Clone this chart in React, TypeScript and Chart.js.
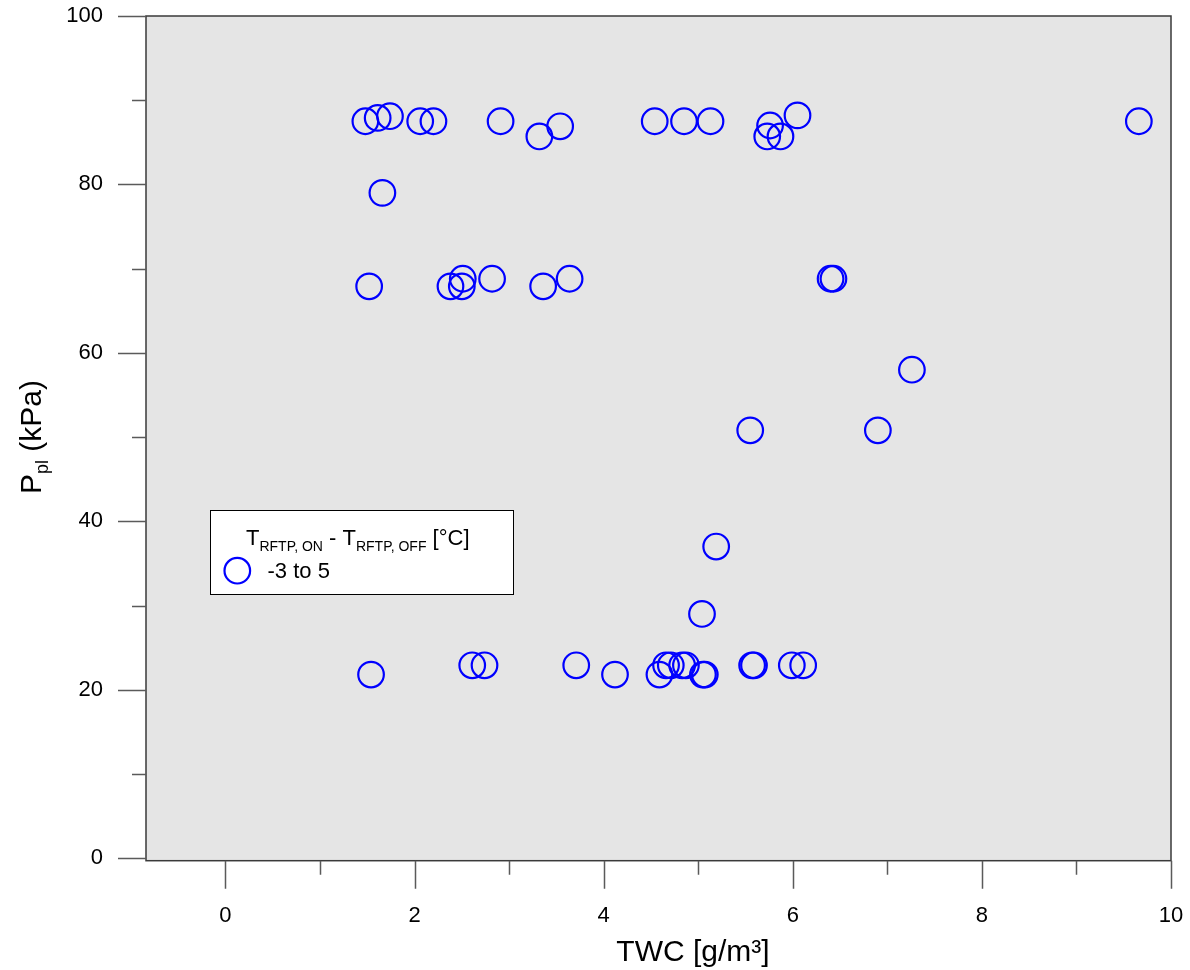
import React, { useEffect, useRef } from "react";
import { Chart, registerables } from "chart.js";

Chart.register(...registerables);

// ---- data ----
const X_VALUES = [
  1.48, 1.61, 1.74, 2.06, 2.2, 2.91, 3.32, 3.54, 4.54, 4.85, 5.13, 5.76, 5.73, 5.87, 6.05, 9.66,
  1.66,
  1.52, 2.38, 2.5, 2.51, 2.82, 3.36, 3.64, 6.4, 6.43,
  7.26, 5.55, 6.9, 5.19, 5.04,
  1.54, 2.61, 2.74, 3.71, 4.12, 4.59, 4.66, 4.71, 4.83, 4.87, 5.05, 5.07, 5.57, 5.59, 5.99, 6.11,
];
const Y_VALUES = [
  87.5, 87.9, 88.1, 87.5, 87.5, 87.5, 85.7, 86.9, 87.5, 87.5, 87.5, 87.0, 85.7, 85.7, 88.2, 87.5,
  79.0,
  67.9, 67.9, 67.9, 68.8, 68.8, 67.9, 68.8, 68.8, 68.8,
  58.0, 50.8, 50.8, 37.0, 29.0,
  21.8, 22.9, 22.9, 22.9, 21.8, 21.8, 22.9, 22.9, 22.9, 22.9, 21.8, 21.8, 22.9, 22.9, 22.9, 22.9,
];
const X_TICKS = [0, 1, 2, 3, 4, 5, 6, 7, 8, 9, 10];
const X_LABELED = [0, 2, 4, 6, 8, 10];
const Y_TICKS = [0, 10, 20, 30, 40, 50, 60, 70, 80, 90, 100];
const Y_LABELED = [0, 20, 40, 60, 80, 100];
const X_MIN = -0.84;
const X_MAX = 10;
const Y_MIN = -0.3;
const Y_MAX = 100;
const SERIES_LABEL = "-3 to 5";
const X_TITLE = "TWC [g/m³]";
const Y_TITLE = [
  { text: "P", sub: false },
  { text: "pl", sub: true },
  { text: " (kPa)", sub: false },
];
const LEGEND_TITLE = [
  { text: "T", sub: false },
  { text: "RFTP, ON", sub: true },
  { text: " - T", sub: false },
  { text: "RFTP, OFF", sub: true },
  { text: " [°C]", sub: false },
];

const FAMILY = '"Liberation Sans", Arial, Helvetica, sans-serif';
const BLUE = "#0000ff";
const MARKER_R = 12.8;
const MARKER_W = 2.2;

function drawRich(
  ctx: CanvasRenderingContext2D,
  parts: { text: string; sub: boolean }[],
  x: number,
  y: number,
  mainSize: number,
  subSize: number,
  subDrop: number,
  align: "left" | "center"
) {
  let total = 0;
  for (const p of parts) {
    ctx.font = `${p.sub ? subSize : mainSize}px ${FAMILY}`;
    total += ctx.measureText(p.text).width;
  }
  let cx = align === "center" ? x - total / 2 : x;
  ctx.textAlign = "left";
  ctx.textBaseline = "alphabetic";
  for (const p of parts) {
    ctx.font = `${p.sub ? subSize : mainSize}px ${FAMILY}`;
    ctx.fillText(p.text, cx, p.sub ? y + subDrop : y);
    cx += ctx.measureText(p.text).width;
  }
}

const decorPlugin = {
  id: "decor",
  beforeDraw(chart: any) {
    const { ctx, chartArea: a } = chart;
    ctx.save();
    ctx.fillStyle = "#e5e5e5";
    ctx.fillRect(a.left, a.top, a.right - a.left, a.bottom - a.top);
    ctx.restore();
  },
  afterDraw(chart: any) {
    const { ctx, chartArea: a } = chart;
    const xs = chart.scales.x;
    const ys = chart.scales.y;
    ctx.save();
    // frame
    ctx.strokeStyle = "#3a3a3a";
    ctx.lineWidth = 1.5;
    ctx.strokeRect(a.left, a.top, a.right - a.left, a.bottom - a.top);
    // tick marks
    ctx.strokeStyle = "#5a5a5a";
    ctx.lineWidth = 1.5;
    ctx.beginPath();
    for (const v of X_TICKS) {
      const px = Math.round(xs.getPixelForValue(v)) + 0.5;
      const len = X_LABELED.includes(v) ? 28 : 14;
      ctx.moveTo(px, a.bottom);
      ctx.lineTo(px, a.bottom + len);
    }
    for (const v of Y_TICKS) {
      const py = Math.round(ys.getPixelForValue(v)) + 0.5;
      const len = Y_LABELED.includes(v) ? 28 : 14;
      ctx.moveTo(a.left - len, py);
      ctx.lineTo(a.left, py);
    }
    ctx.stroke();

    // axis titles
    ctx.fillStyle = "#000";
    ctx.font = `30px ${FAMILY}`;
    ctx.textAlign = "center";
    ctx.textBaseline = "alphabetic";
    ctx.fillText(X_TITLE, 693, 961);

    ctx.save();
    ctx.translate(41, 437);
    ctx.rotate(-Math.PI / 2);
    drawRich(ctx, Y_TITLE, 0, 0, 30, 18, 7, "center");
    ctx.restore();

    // legend box
    const lx = 210.5;
    const ly = 510.5;
    ctx.fillStyle = "#ffffff";
    ctx.fillRect(lx, ly, 303, 84);
    ctx.strokeStyle = "#000";
    ctx.lineWidth = 1;
    ctx.strokeRect(lx, ly, 303, 84);
    ctx.fillStyle = "#000";
    drawRich(ctx, LEGEND_TITLE, 246, 545, 22, 14, 5.5, "left");
    ctx.beginPath();
    ctx.strokeStyle = BLUE;
    ctx.lineWidth = MARKER_W;
    ctx.arc(237.3, 570.7, MARKER_R, 0, Math.PI * 2);
    ctx.stroke();
    ctx.fillStyle = "#000";
    ctx.font = `22px ${FAMILY}`;
    ctx.textAlign = "left";
    ctx.fillText(SERIES_LABEL, 267.5, 577.5);
    ctx.restore();
  },
};

const HIDDEN = "rgba(0,0,0,0)";

export default function App() {
  const canvasRef = useRef<HTMLCanvasElement | null>(null);

  useEffect(() => {
    const canvas = canvasRef.current;
    if (!canvas) return;
    const data = X_VALUES.map((x, i) => ({ x, y: Y_VALUES[i] }));
    const chart = new Chart(canvas, {
      type: "scatter",
      data: {
        datasets: [
          {
            label: SERIES_LABEL,
            data,
            pointStyle: "circle",
            pointRadius: MARKER_R,
            pointHoverRadius: MARKER_R,
            borderWidth: MARKER_W,
            borderColor: BLUE,
            backgroundColor: "rgba(0,0,0,0)",
          },
        ],
      },
      options: {
        animation: false,
        responsive: false,
        maintainAspectRatio: false,
        events: [],
        layout: { padding: { left: 0, top: 16, right: 19, bottom: 0 } },
        plugins: {
          legend: { display: false },
          tooltip: { enabled: false },
          title: { display: false },
        },
        scales: {
          x: {
            type: "linear",
            position: "bottom",
            min: X_MIN,
            max: X_MAX,
            afterBuildTicks: (scale: any) => {
              scale.ticks = X_TICKS.map((v) => ({ value: v }));
            },
            afterFit: (scale: any) => {
              scale.height = 109.3;
            },
            grid: {
              display: true,
              drawOnChartArea: false,
              drawTicks: true,
              tickLength: 42,
              color: HIDDEN,
            },
            border: { display: false },
            ticks: {
              autoSkip: false,
              maxRotation: 0,
              minRotation: 0,
              padding: 0,
              color: "#000",
              font: { family: FAMILY, size: 22 },
              callback: (v: any) => (X_LABELED.includes(Number(v)) ? String(v) : ""),
            },
          },
          y: {
            type: "linear",
            position: "left",
            min: Y_MIN,
            max: Y_MAX,
            afterBuildTicks: (scale: any) => {
              scale.ticks = Y_TICKS.map((v) => ({ value: v }));
            },
            afterFit: (scale: any) => {
              scale.width = 146;
            },
            grid: {
              display: true,
              drawOnChartArea: false,
              drawTicks: true,
              tickLength: 43,
              color: HIDDEN,
            },
            border: { display: false },
            ticks: {
              autoSkip: false,
              padding: 0,
              color: "#000",
              font: { family: FAMILY, size: 22 },
              callback: (v: any) => (Y_LABELED.includes(Number(v)) ? String(v) : ""),
            },
          },
        },
      },
      plugins: [decorPlugin],
    });
    return () => chart.destroy();
  }, []);

  return (
    <div style={{ position: "absolute", left: 0, top: 0, width: 1190, height: 970 }}>
      <canvas ref={canvasRef} width={1190} height={970} style={{ display: "block" }} />
    </div>
  );
}
